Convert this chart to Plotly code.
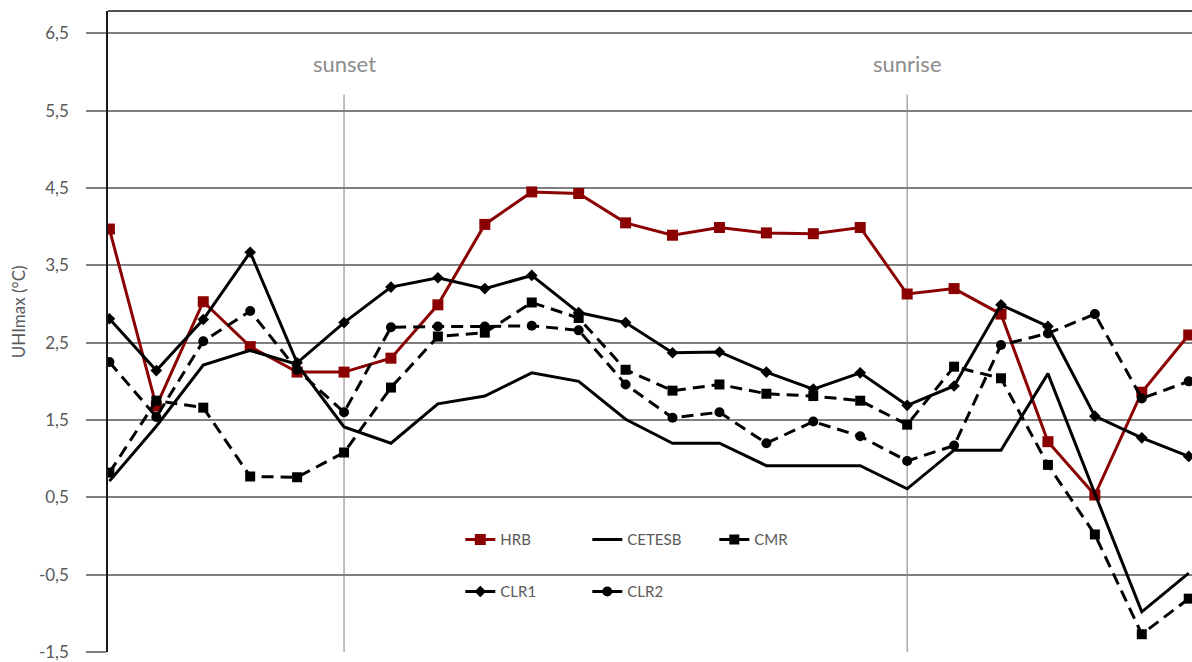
import plotly.graph_objects as go

# hourly steps along the x axis (0 .. 23)
steps = list(range(24))

hrb = [3.97, 1.68, 3.03, 2.45, 2.12, 2.12, 2.30, 2.99, 4.03, 4.45, 4.43, 4.05,
       3.89, 3.99, 3.92, 3.91, 3.99, 3.13, 3.20, 2.87, 1.22, 0.53, 1.86, 2.60]
cetesb = [0.71, 1.42, 2.21, 2.40, 2.22, 1.41, 1.20, 1.71, 1.81, 2.11, 2.00, 1.51,
          1.20, 1.20, 0.91, 0.91, 0.91, 0.61, 1.11, 1.11, 2.10, 0.55, -0.98, -0.48]
cmr = [0.82, 1.75, 1.66, 0.77, 0.76, 1.08, 1.92, 2.58, 2.63, 3.02, 2.82, 2.15,
       1.88, 1.96, 1.84, 1.81, 1.75, 1.44, 2.19, 2.04, 0.92, 0.02, -1.27, -0.81]
clr1 = [2.81, 2.14, 2.80, 3.67, 2.24, 2.76, 3.22, 3.34, 3.20, 3.37, 2.89, 2.76,
        2.37, 2.38, 2.12, 1.90, 2.11, 1.69, 1.94, 2.99, 2.71, 1.55, 1.27, 1.03]
clr2 = [2.25, 1.54, 2.52, 2.91, 2.15, 1.60, 2.70, 2.71, 2.71, 2.72, 2.66, 1.96,
        1.53, 1.60, 1.20, 1.48, 1.29, 0.97, 1.17, 2.47, 2.62, 2.87, 1.78, 2.00]

y_ticks = [-1.5, -0.5, 0.5, 1.5, 2.5, 3.5, 4.5, 5.5, 6.5]
y_tick_labels = ["-1,5", "-0,5", "0,5", "1,5", "2,5", "3,5", "4,5", "5,5", "6,5"]

# event markers: position on the x axis and label
events = ["sunset", "sunrise"]
event_steps = [5, 17]

RED = "#8b0000"
BLACK = "#000000"
GREY_TXT = "#595959"
FONT = "Lato, 'Open Sans', sans-serif"

fig = go.Figure()

fig.add_trace(go.Scatter(
    x=steps, y=hrb, name="HRB", mode="lines+markers",
    line=dict(color=RED, width=3),
    marker=dict(symbol="square", size=11, color=RED),
    legend="legend"))
fig.add_trace(go.Scatter(
    x=steps, y=cetesb, name="CETESB", mode="lines",
    line=dict(color=BLACK, width=3),
    legend="legend"))
fig.add_trace(go.Scatter(
    x=steps, y=cmr, name="CMR", mode="lines+markers",
    line=dict(color=BLACK, width=3, dash="12px,7px"),
    marker=dict(symbol="square", size=10, color=BLACK),
    legend="legend"))
fig.add_trace(go.Scatter(
    x=steps, y=clr1, name="CLR1", mode="lines+markers",
    line=dict(color=BLACK, width=3),
    marker=dict(symbol="diamond", size=9, color=BLACK),
    legend="legend2"))
fig.add_trace(go.Scatter(
    x=steps, y=clr2, name="CLR2", mode="lines+markers",
    line=dict(color=BLACK, width=3, dash="12px,7px"),
    marker=dict(symbol="circle", size=10, color=BLACK),
    legend="legend2"))

# vertical event lines and their labels
for name, xs in zip(events, event_steps):
    fig.add_shape(type="line", xref="x", yref="y", x0=xs, x1=xs, y0=-1.5, y1=5.71,
                  line=dict(color="#808080", width=1), layer="below")
    fig.add_annotation(x=xs, y=6.11, xref="x", yref="y", text=name, showarrow=False,
                       font=dict(family=FONT, size=22, color="#8c8c8c"),
                       xanchor="center", yanchor="middle")

# top frame line
fig.add_shape(type="line", xref="paper", yref="paper", x0=0, x1=1, y0=1, y1=1,
              line=dict(color="#1a1a1a", width=1.5))

# y-axis title
fig.add_annotation(x=-0.083, y=0.53, xref="paper", yref="paper", text="UHImax (°C)",
                   showarrow=False, textangle=-90, xanchor="center", yanchor="middle",
                   font=dict(family=FONT, size=17, color=GREY_TXT))

legend_common = dict(
    orientation="h", xref="paper", yref="paper", xanchor="left", yanchor="middle",
    bgcolor="rgba(0,0,0,0)", font=dict(family=FONT, size=15, color=GREY_TXT),
    entrywidth=82, entrywidthmode="pixels", itemwidth=30, tracegroupgap=0)

fig.update_layout(
    width=1192, height=662,
    margin=dict(l=108, r=0, t=11, b=10),
    paper_bgcolor="white", plot_bgcolor="white",
    font=dict(family=FONT, color=GREY_TXT),
    showlegend=True,
    legend=dict(x=0.325, y=0.175, **legend_common),
    legend2=dict(x=0.325, y=0.094, **legend_common),
    xaxis=dict(range=[-0.03, 23.07], showgrid=False, zeroline=False,
               showticklabels=False, ticks="", showline=False),
    yaxis=dict(range=[-1.5, 6.79], tickvals=y_ticks, ticktext=y_tick_labels,
               showgrid=True, gridcolor="#7f7f7f", gridwidth=2, zeroline=False,
               ticks="outside", ticklen=20, tickwidth=2, tickcolor="#7f7f7f",
               ticklabelstandoff=14,
               tickfont=dict(family=FONT, size=17, color=GREY_TXT),
               showline=True, linecolor="#1a1a1a", linewidth=1.5),
)

fig.write_html("out.html")
